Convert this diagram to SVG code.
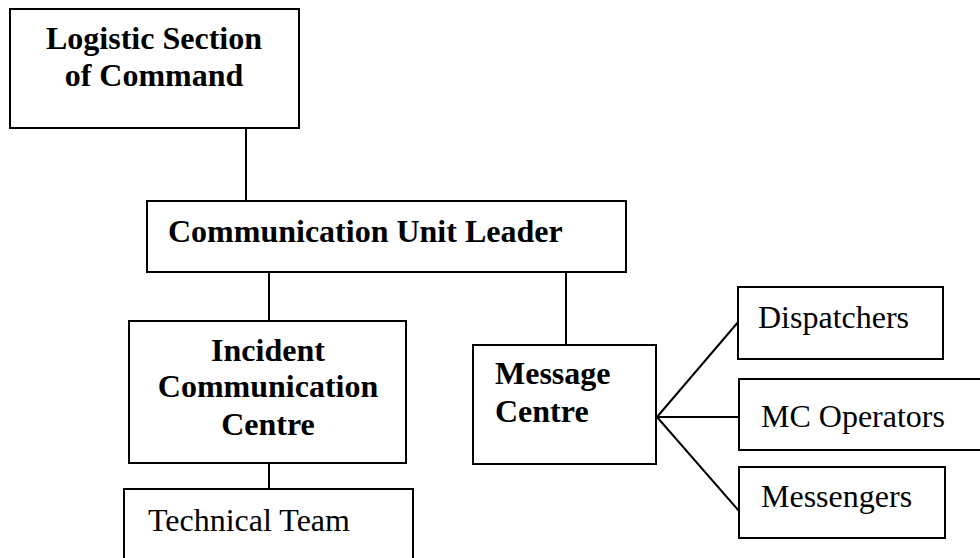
<svg xmlns="http://www.w3.org/2000/svg" width="980" height="558" viewBox="0 0 980 558">
<style>
.box{fill:#fff;stroke:#000;stroke-width:2}
.ln{stroke:#000;stroke-width:2;fill:none}
.b{font-family:"Liberation Serif","Times New Roman",serif;font-weight:bold;font-size:32px;fill:#000}
.r{font-family:"Liberation Serif","Times New Roman",serif;font-size:32px;fill:#000}
</style>
<rect width="980" height="558" fill="#fff"/>
<g id="connectors">
<line class="ln" x1="246" y1="128" x2="246" y2="201"/>
<line class="ln" x1="269" y1="272" x2="269" y2="321"/>
<line class="ln" x1="566" y1="272" x2="566" y2="345"/>
<line class="ln" x1="269" y1="463" x2="269" y2="489"/>
<line class="ln" x1="657" y1="417" x2="739" y2="321"/>
<line class="ln" x1="657" y1="417" x2="739" y2="417"/>
<line class="ln" x1="657" y1="417" x2="739" y2="511"/>
</g>
<g id="logistic">
<rect class="box" x="10" y="9" width="289" height="119"/>
<text class="b" x="154" y="49" text-anchor="middle">Logistic Section</text>
<text class="b" x="154" y="86" text-anchor="middle">of Command</text>
</g>
<g id="cul">
<rect class="box" x="147" y="201" width="479" height="71"/>
<text class="b" x="168" y="242">Communication Unit Leader</text>
</g>
<g id="icc">
<rect class="box" x="129" y="321" width="277" height="142"/>
<text class="b" x="268" y="361" text-anchor="middle">Incident</text>
<text class="b" x="268" y="397" text-anchor="middle">Communication</text>
<text class="b" x="268" y="435" text-anchor="middle">Centre</text>
</g>
<g id="tech">
<rect class="box" x="124" y="489" width="289" height="80"/>
<text class="r" x="148" y="531">Technical Team</text>
</g>
<g id="mc">
<rect class="box" x="473" y="345" width="183" height="119"/>
<text class="b" x="495" y="384">Message</text>
<text class="b" x="495" y="422">Centre</text>
</g>
<g id="disp">
<rect class="box" x="738" y="287" width="205" height="72"/>
<text class="r" x="758" y="328">Dispatchers</text>
</g>
<g id="mcop">
<rect class="box" x="739" y="379" width="260" height="71"/>
<text class="r" x="761" y="427">MC Operators</text>
</g>
<g id="msg">
<rect class="box" x="739" y="467" width="206" height="71"/>
<text class="r" x="761" y="507">Messengers</text>
</g>
</svg>
